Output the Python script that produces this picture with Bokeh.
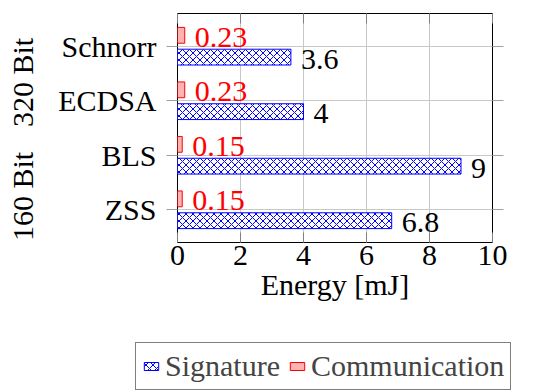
from bokeh.plotting import figure
from bokeh.models import (Range1d, FixedTicker, LinearAxis, Legend, LegendItem,
                          ColumnDataSource)
from bokeh.layouts import column
from bokeh.transform import dodge
from bokeh.core.properties import value
from bokeh.embed import file_html
from bokeh.resources import INLINE

# ---- data ----
methods = ["ZSS", "BLS", "ECDSA", "Schnorr"]          # bottom to top
signature = [6.8, 9, 4, 3.6]
communication = [0.15, 0.15, 0.23, 0.23]
groups = ["160 Bit", "320 Bit"]
x_ticks = [0, 2, 4, 6, 8, 10]

FONT = "Liberation Serif"
FS = "30px"

pos = list(range(len(methods)))
src = ColumnDataSource(dict(
    pos=pos,
    sig=signature,
    com=communication,
    sig_txt=[f"{v:g}" for v in signature],
    com_txt=[f"{v:g}" for v in communication],
))

SIG_STYLE = dict(fill_color="white", line_color="#0000ff", line_width=1,
                 hatch_pattern="diagonal_cross", hatch_color="#0000ff", hatch_scale=7,
                 hatch_weight=1)
COM_STYLE = dict(fill_color="#ffb3b3", line_color="#ff0000", line_width=1)

p = figure(width=535, height=335, y_range=Range1d(-0.6, len(methods) - 1 + 0.6),
           x_range=Range1d(0, 10),
           output_backend="svg", toolbar_location=None,
           min_border_left=177, min_border_right=43, min_border_top=13, min_border_bottom=93)

p.outline_line_color = "black"
p.outline_line_width = 1
p.background_fill_color = "white"
p.border_fill_color = "white"

# grid
p.xgrid.ticker = FixedTicker(ticks=x_ticks)
p.ygrid.ticker = FixedTicker(ticks=pos)
p.grid.grid_line_color = "#c8c8c8"
p.grid.grid_line_width = 1

# bottom axis
xa = p.xaxis[0]
xa.ticker = FixedTicker(ticks=x_ticks)
xa.axis_line_color = None
xa.major_tick_in = 10
xa.major_tick_out = 0
xa.major_tick_line_color = "#808080"
xa.minor_tick_line_color = None
xa.major_label_text_font = FONT
xa.major_label_text_font_size = FS
xa.major_label_text_color = "black"
xa.major_label_standoff = 3
xa.axis_label = "Energy [mJ]"
xa.axis_label_text_font = FONT
xa.axis_label_text_font_size = FS
xa.axis_label_text_font_style = "normal"
xa.axis_label_text_color = "black"
xa.axis_label_standoff = 0

# left axis (method names)
ya = p.yaxis[0]
ya.ticker = FixedTicker(ticks=pos)
ya.major_label_overrides = {i: m for i, m in zip(pos, methods)}
ya.axis_line_color = None
ya.major_tick_in = 0
ya.major_tick_out = 11
ya.major_tick_line_color = "#a0a0a0"
ya.minor_tick_line_color = None
ya.major_label_text_font = FONT
ya.major_label_text_font_size = FS
ya.major_label_text_color = "black"
ya.major_label_standoff = 10

# group labels as an outer left axis
p.extra_y_ranges = {"grp": Range1d(0.596, 2.605)}
ga = LinearAxis(y_range_name="grp", ticker=FixedTicker(ticks=[1, 2]),
                major_label_overrides={1: groups[0], 2: groups[1]},
                axis_line_color=None, major_tick_in=0, major_tick_out=0,
                minor_tick_line_color=None, major_label_orientation="parallel",
                major_label_text_font=FONT, major_label_text_font_size=FS,
                major_label_text_color="black", major_label_standoff=16)
p.add_layout(ga, "left")

# top axis (ticks only)
ta = LinearAxis(ticker=FixedTicker(ticks=x_ticks), axis_line_color=None,
                major_tick_in=10, major_tick_out=0, major_tick_line_color="#808080",
                minor_tick_line_color=None, major_label_text_font_size="1px",
                major_label_text_color=None, major_label_standoff=0)
p.add_layout(ta, "above")

# right axis (ticks only)
ra = LinearAxis(ticker=FixedTicker(ticks=pos), axis_line_color=None,
                major_tick_in=0, major_tick_out=11, minor_tick_line_color=None,
                major_tick_line_color="#a0a0a0", major_label_text_font_size="1px",
                major_label_text_color=None, major_label_standoff=0)
p.add_layout(ra, "right")

# bars
p.hbar(y=dodge("pos", -0.2), right="sig", left=0, height=0.29, source=src, **SIG_STYLE)
p.hbar(y=dodge("pos", 0.2), right="com", left=0, height=0.29, source=src, **COM_STYLE)

# value labels
p.text(x="sig", y=dodge("pos", -0.2), text="sig_txt", source=src,
       x_offset=10, y_offset=2, text_baseline="middle", text_align="left",
       text_font=value(FONT), text_font_size=FS, text_color="black")
p.text(x="com", y=dodge("pos", 0.2), text="com_txt", source=src,
       x_offset=10, y_offset=2, text_baseline="middle", text_align="left",
       text_font=value(FONT), text_font_size=FS, text_color="#ff0000")

# ---- legend strip (separate figure below the chart) ----
q = figure(width=535, height=55, x_range=Range1d(0, 10), y_range=Range1d(100, 101),
           output_backend="svg", toolbar_location=None,
           x_axis_location=None, y_axis_location=None, min_border=0)
if "frame_align" in q.properties():
    q.frame_align = False
    p.frame_align = False
q.grid.visible = False
q.outline_line_color = None
q.background_fill_color = "white"
q.border_fill_color = "white"
sig_r = q.hbar(y="pos", right="sig", left=0, height=0.29, source=src, **SIG_STYLE)
com_r = q.hbar(y="pos", right="com", left=0, height=0.29, source=src, **COM_STYLE)

legend = Legend(items=[LegendItem(label="Signature", renderers=[sig_r]),
                       LegendItem(label="Communication", renderers=[com_r])],
                orientation="horizontal", location=(135, 0),
                border_line_color="black", border_line_width=1,
                background_fill_color="white", background_fill_alpha=1,
                label_text_font=FONT, label_text_font_size=FS,
                glyph_width=18, glyph_height=10, padding=6, spacing=8,
                label_standoff=5, margin=0)
q.add_layout(legend, "center")

open("out.html", "w").write(file_html(column(p, q, spacing=0), INLINE))
